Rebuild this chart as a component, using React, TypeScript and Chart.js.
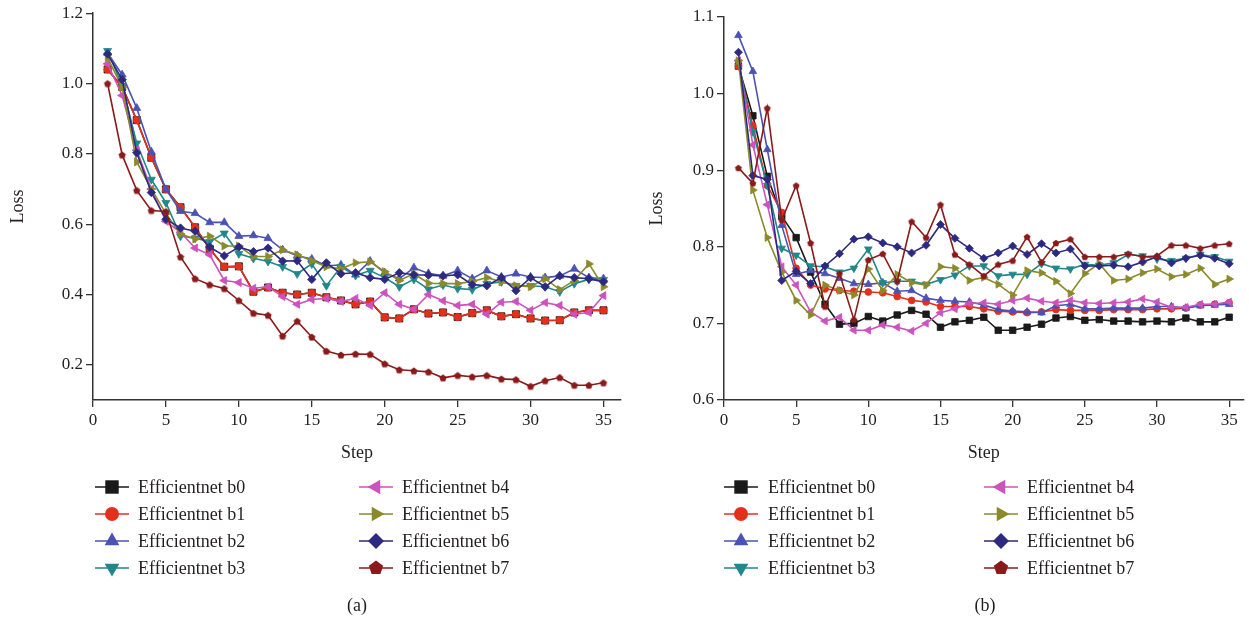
import React, { useEffect, useRef } from 'react';
import { Chart, registerables } from 'chart.js';

Chart.register(...registerables);

// ---------- data ----------
const STEPS = [1, 2, 3, 4, 5, 6, 7, 8, 9, 10, 11, 12, 13, 14, 15, 16, 17, 18, 19, 20, 21, 22, 23, 24, 25, 26, 27, 28, 29, 30, 31, 32, 33, 34, 35];
const SERIES_NAMES = ['Efficientnet b0', 'Efficientnet b1', 'Efficientnet b2', 'Efficientnet b3', 'Efficientnet b4', 'Efficientnet b5', 'Efficientnet b6', 'Efficientnet b7'];
const X_TICKS = [0, 5, 10, 15, 20, 25, 30, 35];
const A_Y_TICKS = [0.2, 0.4, 0.6, 0.8, 1.0, 1.2];
const B_Y_TICKS = [0.6, 0.7, 0.8, 0.9, 1.0, 1.1];

// panel (a)
const A_B0 = [1.04, 0.99, 0.896, 0.789, 0.699, 0.648, 0.591, 0.53, 0.479, 0.48, 0.408, 0.42, 0.405, 0.4, 0.405, 0.392, 0.383, 0.372, 0.38, 0.335, 0.332, 0.358, 0.346, 0.349, 0.336, 0.347, 0.355, 0.338, 0.344, 0.332, 0.326, 0.327, 0.349, 0.355, 0.355];
const A_B1 = [1.04, 0.99, 0.896, 0.789, 0.699, 0.648, 0.591, 0.53, 0.479, 0.48, 0.408, 0.42, 0.405, 0.4, 0.405, 0.392, 0.383, 0.372, 0.38, 0.335, 0.332, 0.358, 0.346, 0.349, 0.336, 0.347, 0.355, 0.338, 0.344, 0.332, 0.326, 0.327, 0.349, 0.355, 0.355];
const A_B2 = [1.087, 1.025, 0.93, 0.806, 0.699, 0.637, 0.631, 0.605, 0.605, 0.566, 0.568, 0.56, 0.527, 0.51, 0.501, 0.482, 0.484, 0.456, 0.495, 0.462, 0.445, 0.476, 0.46, 0.453, 0.468, 0.445, 0.468, 0.45, 0.459, 0.45, 0.448, 0.453, 0.473, 0.448, 0.445];
const A_B3 = [1.093, 0.994, 0.83, 0.727, 0.661, 0.566, 0.56, 0.55, 0.574, 0.516, 0.503, 0.494, 0.479, 0.459, 0.487, 0.425, 0.479, 0.454, 0.468, 0.448, 0.422, 0.443, 0.415, 0.427, 0.417, 0.414, 0.431, 0.436, 0.425, 0.425, 0.422, 0.408, 0.431, 0.443, 0.442];
const A_B4 = [1.056, 0.966, 0.81, 0.7, 0.608, 0.577, 0.532, 0.513, 0.44, 0.434, 0.418, 0.422, 0.394, 0.372, 0.386, 0.389, 0.38, 0.389, 0.369, 0.405, 0.372, 0.358, 0.4, 0.382, 0.369, 0.372, 0.344, 0.378, 0.38, 0.355, 0.377, 0.369, 0.344, 0.349, 0.397];
const A_B5 = [1.073, 0.99, 0.777, 0.7, 0.63, 0.572, 0.558, 0.566, 0.538, 0.538, 0.508, 0.508, 0.527, 0.513, 0.496, 0.479, 0.473, 0.49, 0.493, 0.465, 0.44, 0.459, 0.432, 0.431, 0.431, 0.437, 0.448, 0.436, 0.425, 0.422, 0.445, 0.414, 0.44, 0.487, 0.422];
const A_B6 = [1.084, 1.011, 0.803, 0.69, 0.614, 0.589, 0.58, 0.535, 0.51, 0.535, 0.522, 0.532, 0.495, 0.496, 0.443, 0.49, 0.459, 0.462, 0.448, 0.443, 0.462, 0.456, 0.455, 0.453, 0.456, 0.428, 0.425, 0.448, 0.411, 0.448, 0.422, 0.453, 0.448, 0.445, 0.436];
const A_B7 = [1.0, 0.797, 0.696, 0.639, 0.636, 0.507, 0.445, 0.428, 0.417, 0.383, 0.347, 0.341, 0.282, 0.324, 0.279, 0.239, 0.228, 0.231, 0.23, 0.203, 0.186, 0.183, 0.18, 0.163, 0.17, 0.166, 0.17, 0.16, 0.158, 0.139, 0.155, 0.164, 0.142, 0.142, 0.149];

// panel (b)
const B_B0 = [1.036, 0.971, 0.892, 0.84, 0.812, 0.767, 0.725, 0.699, 0.7, 0.709, 0.703, 0.711, 0.717, 0.712, 0.695, 0.702, 0.704, 0.708, 0.691, 0.691, 0.695, 0.699, 0.707, 0.709, 0.704, 0.705, 0.703, 0.703, 0.702, 0.703, 0.702, 0.707, 0.702, 0.702, 0.708];
const B_B1 = [1.036, 0.958, 0.88, 0.845, 0.772, 0.75, 0.745, 0.743, 0.742, 0.741, 0.74, 0.735, 0.73, 0.728, 0.722, 0.722, 0.722, 0.719, 0.716, 0.715, 0.714, 0.715, 0.718, 0.717, 0.717, 0.717, 0.718, 0.718, 0.718, 0.719, 0.719, 0.72, 0.724, 0.725, 0.727];
const B_B2 = [1.076, 1.029, 0.927, 0.828, 0.764, 0.769, 0.765, 0.759, 0.752, 0.751, 0.753, 0.742, 0.743, 0.733, 0.73, 0.729, 0.728, 0.724, 0.718, 0.716, 0.715, 0.714, 0.723, 0.725, 0.719, 0.719, 0.72, 0.72, 0.72, 0.722, 0.722, 0.72, 0.723, 0.724, 0.725];
const B_B3 = [1.041, 0.95, 0.88, 0.798, 0.789, 0.775, 0.774, 0.767, 0.772, 0.797, 0.753, 0.755, 0.755, 0.751, 0.757, 0.763, 0.775, 0.775, 0.762, 0.764, 0.764, 0.778, 0.772, 0.771, 0.777, 0.776, 0.779, 0.79, 0.788, 0.784, 0.782, 0.785, 0.79, 0.787, 0.781];
const B_B4 = [1.043, 0.933, 0.855, 0.774, 0.75, 0.715, 0.703, 0.708, 0.691, 0.691, 0.698, 0.695, 0.69, 0.7, 0.714, 0.719, 0.726, 0.727, 0.725, 0.73, 0.733, 0.729, 0.727, 0.73, 0.727, 0.726, 0.727, 0.728, 0.732, 0.728, 0.721, 0.721, 0.725, 0.725, 0.728];
const B_B5 = [1.043, 0.874, 0.812, 0.767, 0.73, 0.711, 0.75, 0.743, 0.737, 0.771, 0.743, 0.764, 0.753, 0.75, 0.774, 0.772, 0.756, 0.76, 0.751, 0.737, 0.769, 0.766, 0.755, 0.739, 0.765, 0.778, 0.756, 0.758, 0.766, 0.771, 0.761, 0.764, 0.772, 0.751, 0.758];
const B_B6 = [1.054, 0.893, 0.888, 0.756, 0.768, 0.752, 0.775, 0.791, 0.81, 0.813, 0.805, 0.8, 0.792, 0.802, 0.829, 0.811, 0.798, 0.785, 0.792, 0.801, 0.79, 0.804, 0.792, 0.797, 0.775, 0.775, 0.776, 0.774, 0.78, 0.787, 0.779, 0.785, 0.789, 0.785, 0.778];
const B_B7 = [0.903, 0.883, 0.981, 0.835, 0.88, 0.805, 0.722, 0.765, 0.705, 0.783, 0.791, 0.755, 0.833, 0.812, 0.855, 0.79, 0.777, 0.762, 0.777, 0.782, 0.813, 0.78, 0.805, 0.81, 0.787, 0.787, 0.787, 0.791, 0.787, 0.788, 0.802, 0.802, 0.798, 0.802, 0.804];

// ---------- styles ----------
const COLORS = ['#1a1a1a', '#e2301c', '#4b52b3', '#21878a', '#cc52bd', '#8b8a2b', '#2e2980', '#8a1b1b'];
const MARKERS = ['rect', 'circle', 'triangle', 'triangleDown', 'triangleLeft', 'triangleRight', 'rectRot', 'pentagon'];
const FONT = '"Liberation Serif", "Times New Roman", "DejaVu Serif", serif';
const TEXT_COLOR = '#231f20';
const AXIS_COLOR = '#333333';

function drawMarker(ctx: CanvasRenderingContext2D, kind: string, x: number, y: number, r: number, color: string) {
  ctx.fillStyle = color;
  ctx.beginPath();
  const poly = (n: number, start: number, rad: number) => {
    for (let k = 0; k < n; k++) {
      const a = start + (k * 2 * Math.PI) / n;
      const px = x + rad * Math.cos(a);
      const py = y + rad * Math.sin(a);
      if (k === 0) ctx.moveTo(px, py);
      else ctx.lineTo(px, py);
    }
    ctx.closePath();
  };
  switch (kind) {
    case 'rect':
      ctx.rect(x - r * 0.707, y - r * 0.707, r * 1.414, r * 1.414);
      break;
    case 'circle':
      ctx.arc(x, y, r, 0, Math.PI * 2);
      break;
    case 'triangle':
      poly(3, -Math.PI / 2, r);
      break;
    case 'triangleDown':
      poly(3, Math.PI / 2, r);
      break;
    case 'triangleLeft':
      poly(3, Math.PI, r);
      break;
    case 'triangleRight':
      poly(3, 0, r);
      break;
    case 'rectRot':
      poly(4, 0, r);
      break;
    case 'pentagon':
      poly(5, -Math.PI / 2, r);
      break;
  }
  ctx.fill();
}

function pentagonCanvas(color: string, r: number) {
  const c = document.createElement('canvas');
  const s = Math.ceil(r * 2 + 2);
  c.width = s;
  c.height = s;
  const ctx = c.getContext('2d') as CanvasRenderingContext2D;
  drawMarker(ctx, 'pentagon', s / 2, s / 2 + r * 0.1, r, color);
  return c;
}

function pointStyleFor(kind: string, color: string, r: number): { pointStyle: any; rotation: number } {
  switch (kind) {
    case 'triangleDown':
      return { pointStyle: 'triangle', rotation: 180 };
    case 'triangleLeft':
      return { pointStyle: 'triangle', rotation: 270 };
    case 'triangleRight':
      return { pointStyle: 'triangle', rotation: 90 };
    case 'pentagon':
      return { pointStyle: pentagonCanvas(color, r), rotation: 0 };
    default:
      return { pointStyle: kind, rotation: 0 };
  }
}

const legendPlugin = {
  id: 'panelLegend',
  afterDraw(chart: any, _args: any, opts: any) {
    const ctx: CanvasRenderingContext2D = chart.ctx;
    ctx.save();
    ctx.font = `18px ${FONT}`;
    ctx.textBaseline = 'middle';
    chart.data.datasets.forEach((ds: any, i: number) => {
      const col = i < 4 ? 0 : 1;
      const row = i % 4;
      const mx = opts.markerX[col];
      const y = opts.rowY[row];
      ctx.strokeStyle = ds.borderColor;
      ctx.lineWidth = 1.6;
      ctx.beginPath();
      ctx.moveTo(mx - 17, y);
      ctx.lineTo(mx + 17, y);
      ctx.stroke();
      drawMarker(ctx, MARKERS[i], mx, y, opts.sizes[i], ds.borderColor);
      ctx.fillStyle = TEXT_COLOR;
      ctx.textAlign = 'left';
      ctx.fillText(ds.label, opts.textX[col], y + 1);
    });
    ctx.textAlign = 'center';
    ctx.fillStyle = TEXT_COLOR;
    ctx.fillText(opts.caption, opts.captionX, opts.captionY);
    ctx.restore();
  },
};

type PanelCfg = {
  series: number[][];
  yMin: number;
  yMax: number;
  yTicks: number[];
  xMax: number;
  padTop: number;
  padRight: number;
  yWidth: number;
  yTitlePad: number;
  pointSizes: number[];
  legendSizes: number[];
  markerX: number[];
  textX: number[];
  caption: string;
  captionX: number;
};

const LEGEND_ROWS = [487, 514, 541, 568];

function buildConfig(p: PanelCfg): any {
  const datasets = p.series.map((vals, i) => {
    const st = pointStyleFor(MARKERS[i], COLORS[i], p.pointSizes[i]);
    return {
      label: SERIES_NAMES[i],
      data: STEPS.map((s, j) => ({ x: s, y: vals[j] })),
      borderColor: COLORS[i],
      backgroundColor: COLORS[i],
      pointBackgroundColor: COLORS[i],
      pointBorderColor: COLORS[i],
      pointBorderWidth: 0.8,
      borderWidth: 1.6,
      pointRadius: p.pointSizes[i],
      pointStyle: st.pointStyle,
      rotation: st.rotation,
      tension: 0,
      order: 10 - i,
    };
  });
  const tickFont = { family: FONT, size: 17 };
  const titleFont = { family: FONT, size: 18 };
  return {
    type: 'line',
    data: { datasets },
    options: {
      animation: false,
      responsive: false,
      maintainAspectRatio: false,
      events: [],
      layout: { padding: { left: 0, right: p.padRight, top: p.padTop, bottom: 151 } },
      plugins: {
        legend: { display: false },
        tooltip: { enabled: false },
        panelLegend: {
          markerX: p.markerX,
          textX: p.textX,
          rowY: LEGEND_ROWS,
          sizes: p.legendSizes,
          caption: p.caption,
          captionX: p.captionX,
          captionY: 606,
        },
      },
      scales: {
        x: {
          type: 'linear',
          min: 0,
          max: p.xMax,
          afterBuildTicks: (s: any) => {
            s.ticks = X_TICKS.map((v) => ({ value: v }));
          },
          afterFit: (s: any) => {
            s.height = 70;
          },
          grid: { drawOnChartArea: false, drawTicks: true, tickLength: 7, color: AXIS_COLOR, lineWidth: 1.3 },
          border: { color: AXIS_COLOR, width: 1.5 },
          ticks: { font: tickFont, color: TEXT_COLOR, padding: 3, maxRotation: 0, autoSkip: false, callback: (v: any) => String(v) },
          title: { display: true, text: 'Step', font: titleFont, color: TEXT_COLOR, padding: { top: 0, bottom: 6 } },
        },
        y: {
          type: 'linear',
          min: p.yMin,
          max: p.yMax,
          afterBuildTicks: (s: any) => {
            s.ticks = p.yTicks.map((v) => ({ value: v }));
          },
          afterFit: (s: any) => {
            s.width = p.yWidth;
          },
          grid: { drawOnChartArea: false, drawTicks: true, tickLength: 7, color: AXIS_COLOR, lineWidth: 1.3 },
          border: { color: AXIS_COLOR, width: 1.5 },
          ticks: { font: tickFont, color: TEXT_COLOR, padding: 3, autoSkip: false, callback: (v: any) => Number(v).toFixed(1) },
          title: { display: true, text: 'Loss', font: titleFont, color: TEXT_COLOR, padding: { top: p.yTitlePad, bottom: 0 } },
        },
      },
    },
    plugins: [legendPlugin],
  };
}

const PANEL_A: PanelCfg = {
  series: [A_B0, A_B1, A_B2, A_B3, A_B4, A_B5, A_B6, A_B7],
  yMin: 0.1,
  yMax: 1.2,
  yTicks: A_Y_TICKS,
  xMax: 36.2,
  padTop: 12,
  padRight: 9,
  yWidth: 93,
  yTitlePad: 7,
  pointSizes: [5, 3.6, 4.6, 4.6, 4.6, 4.6, 4.2, 3.8],
  legendSizes: [9.5, 7, 8.5, 8.5, 8.5, 8.5, 8, 7.5],
  markerX: [112, 376],
  textX: [138, 402],
  caption: '(a)',
  captionX: 357,
};

const PANEL_B: PanelCfg = {
  series: [B_B0, B_B1, B_B2, B_B3, B_B4, B_B5, B_B6, B_B7],
  yMin: 0.6,
  yMax: 1.1,
  yTicks: B_Y_TICKS,
  xMax: 36,
  padTop: 17,
  padRight: 4,
  yWidth: 94,
  yTitlePad: 16,
  pointSizes: [4.6, 3.4, 4.4, 4.4, 4.4, 4.4, 4, 3.6],
  legendSizes: [9.5, 7, 8.5, 8.5, 8.5, 8.5, 8, 7.5],
  markerX: [111, 371],
  textX: [138, 397],
  caption: '(b)',
  captionX: 355,
};

function Panel({ cfg, left, width }: { cfg: PanelCfg; left: number; width: number }) {
  const ref = useRef<HTMLCanvasElement | null>(null);
  useEffect(() => {
    if (!ref.current) return;
    const chart = new Chart(ref.current, buildConfig(cfg));
    return () => chart.destroy();
  }, [cfg]);
  return (
    <canvas
      ref={ref}
      width={width}
      height={621}
      style={{ position: 'absolute', left, top: 0, width, height: 621, display: 'block' }}
    />
  );
}

export default function App() {
  return (
    <div style={{ position: 'absolute', left: 0, top: 0, width: 1249, height: 621, background: '#ffffff', overflow: 'hidden' }}>
      <Panel cfg={PANEL_A} left={0} width={630} />
      <Panel cfg={PANEL_B} left={630} width={619} />
    </div>
  );
}
